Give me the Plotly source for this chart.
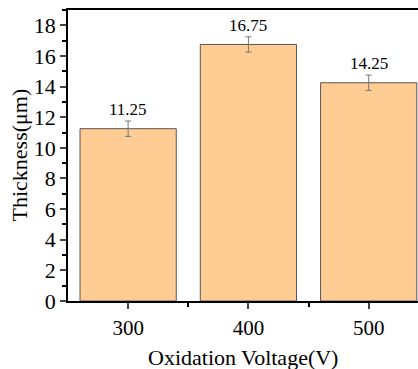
import plotly.graph_objects as go

voltages = [300, 400, 500]
thickness = [11.25, 16.75, 14.25]
errors = [0.5, 0.5, 0.5]
labels = ["11.25", "16.75", "14.25"]

FONT = "Liberation Serif, Times New Roman, serif"

fig = go.Figure()
fig.add_trace(go.Bar(
    x=voltages, y=thickness, width=80,
    marker=dict(color="#FFCC93", line=dict(color="#555555", width=1)),
    error_y=dict(type="data", array=errors, visible=True, color="#777777", thickness=1, width=3),
))

for v, t, e, lab in zip(voltages, thickness, errors, labels):
    fig.add_annotation(x=v, y=t + e, text=lab, showarrow=False, yanchor="bottom", yshift=0,
                       font=dict(family=FONT, size=17, color="black"))

fig.add_annotation(xref="paper", yref="paper", x=0.5, y=0, yshift=-42, text="Oxidation Voltage(V)",
                   showarrow=False, yanchor="top", xanchor="center",
                   font=dict(family=FONT, size=22, color="black"))
fig.add_annotation(xref="paper", yref="paper", x=0, xshift=-49, y=0.5, text="Thickness(μm)",
                   showarrow=False, textangle=-90, xanchor="center", yanchor="middle",
                   font=dict(family=FONT, size=22, color="black"))

fig.update_layout(
    width=418, height=369,
    margin=dict(l=68, r=0, t=10, b=68),
    paper_bgcolor="white", plot_bgcolor="white",
    showlegend=False,
    font=dict(family=FONT, color="black"),
    xaxis=dict(range=[250, 541], tickvals=voltages, ticks="outside", ticklen=6, tickwidth=1.5,
               linecolor="black", linewidth=1.5, mirror=True, showgrid=False, zeroline=False,
               tickfont=dict(family=FONT, size=21, color="black"), ticklabelstandoff=1,
               minor=dict(tickvals=[350, 450], ticks="outside", ticklen=4, tickwidth=1.5, tickcolor="black")),
    yaxis=dict(range=[0, 19], dtick=2, tick0=0, ticks="outside", ticklen=6, tickwidth=1.5,
               linecolor="black", linewidth=1.5, showgrid=False, zeroline=False,
               tickfont=dict(family=FONT, size=22, color="black"),
               minor=dict(dtick=1, tick0=0, ticks="outside", ticklen=4, tickwidth=1.5, tickcolor="black")),
)

fig.write_html("out.html")
